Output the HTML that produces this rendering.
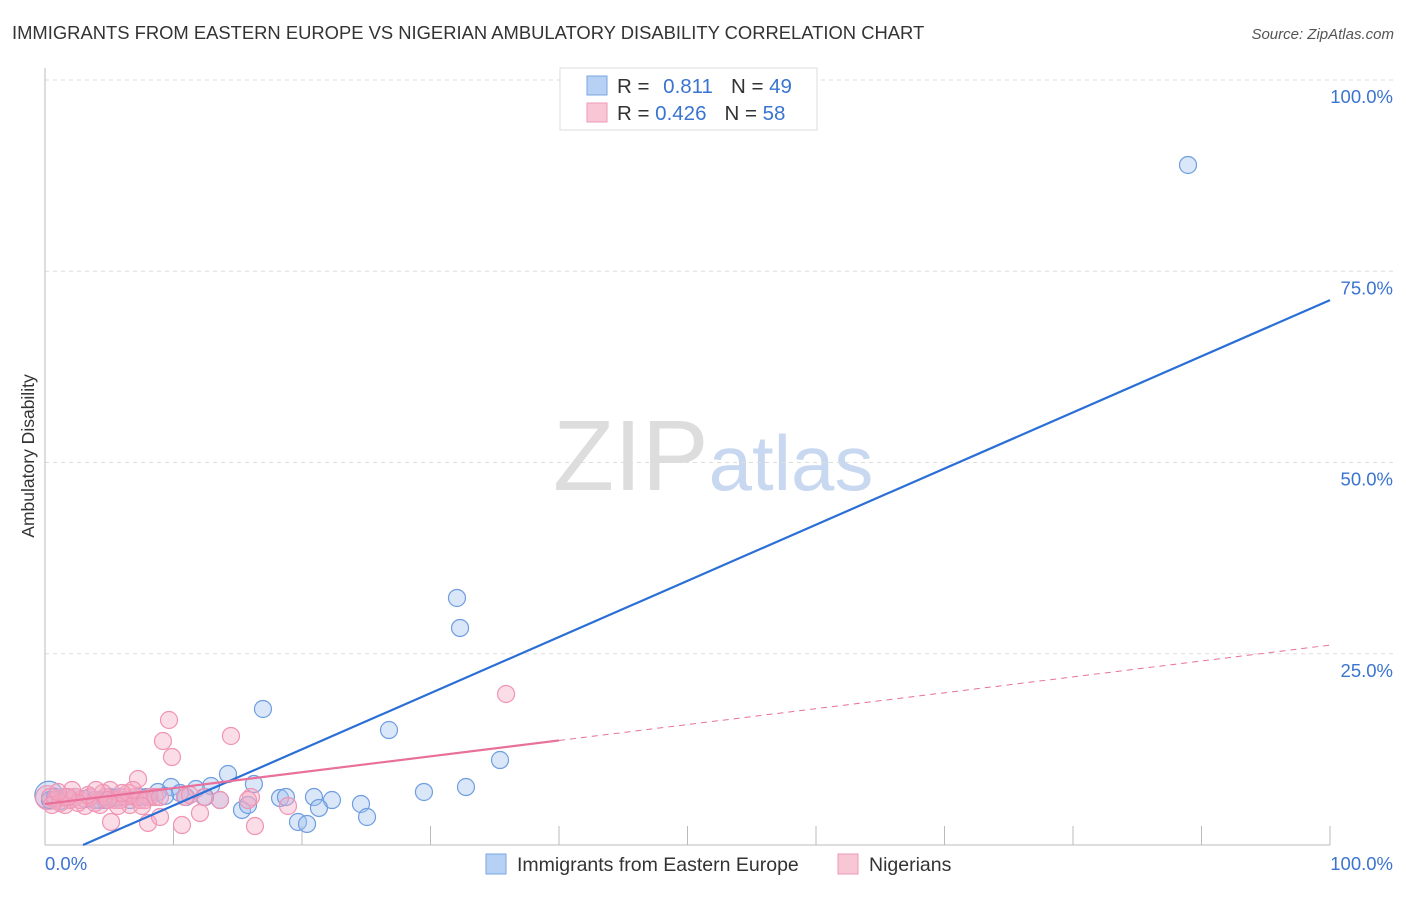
<!DOCTYPE html>
<html><head><meta charset="utf-8">
<style>
body{margin:0;background:#fff;font-family:"Liberation Sans",sans-serif;}
svg text{font-family:"Liberation Sans",sans-serif;}
</style></head>
<body>
<svg id="chart" width="1406" height="892" xmlns="http://www.w3.org/2000/svg">
<text x="12" y="39" font-size="18.4" fill="#333">IMMIGRANTS FROM EASTERN EUROPE VS NIGERIAN AMBULATORY DISABILITY CORRELATION CHART</text>
<text x="1394" y="39" font-size="15" fill="#555" text-anchor="end" font-style="italic">Source: ZipAtlas.com</text>
<text x="553" y="490" font-size="100" fill="#ddd" font-family="Liberation Serif">ZIP<tspan fill="#c8d8f0" font-family="Liberation Sans" font-size="78">atlas</tspan></text>
<g id="grid"></g>
<g id="axes"></g>
<g id="marks"></g>
<text transform="translate(34,456) rotate(-90)" font-size="17.5" fill="#333" text-anchor="middle">Ambulatory Disability</text>
<g>
<rect x="560" y="68" width="257" height="62" fill="#fff" stroke="#ddd"/>
<rect x="587" y="76" width="20" height="19" fill="#b7d1f5" stroke="#7aa5e3"/>
<rect x="587" y="103" width="20" height="19" fill="#f9c6d6" stroke="#ef9ab6"/>
<text x="617" y="93" font-size="20.5" fill="#333">R = <tspan fill="#3a74d0" dx="8">0.811</tspan><tspan fill="#333" dx="18">N = </tspan><tspan fill="#3a74d0">49</tspan></text>
<text x="617" y="120" font-size="20.5" fill="#333">R = <tspan fill="#3a74d0">0.426</tspan><tspan fill="#333" dx="18">N = </tspan><tspan fill="#3a74d0">58</tspan></text>
</g>
<g>
<rect x="486" y="854" width="20" height="20" fill="#b7d1f5" stroke="#7aa5e3"/>
<text x="517" y="871" font-size="19.5" fill="#333">Immigrants from Eastern Europe</text>
<rect x="838" y="854" width="20" height="20" fill="#f9c6d6" stroke="#ef9ab6"/>
<text x="869" y="871" font-size="19.5" fill="#333">Nigerians</text>
</g>
</svg>
<script>
const yTicks=[25,50,75,100];
const yTickLabels=["25.0%","50.0%","75.0%","100.0%"];
const xTickLabels=["0.0%","100.0%"];
const bluePts=[[1188,165],[457,598],[460,628],[263,709],[389,730],[500,760],[466,787],[424,792],[228,774],[254,784],[171,787],[211,786],[196,789],[158,792],[280,798],[286,797],[314,797],[332,800],[361,804],[319,808],[242,810],[248,805],[367,817],[298,822],[307,824],[220,800],[186,797],[140,797],[147,797],[120,797],[100,800],[85,799],[70,800],[60,801],[50,800],[130,800],[110,797],[180,793],[205,797],[90,797],[75,797],[65,797],[55,797],[95,800],[105,800],[115,798],[150,797],[165,796]].map(p=>[+((p[0]-45)/12.85).toFixed(2),+((845-p[1])/7.65).toFixed(2)]);
const pinkPts=[[506,694],[169,720],[163,741],[172,757],[231,736],[138,779],[150,797],[204,797],[251,797],[288,806],[255,826],[200,813],[182,825],[111,822],[148,823],[160,817],[130,805],[100,805],[85,806],[70,800],[60,798],[50,797],[55,800],[65,805],[75,797],[80,800],[90,797],[95,803],[105,797],[110,790],[115,800],[120,800],[125,797],[128,793],[135,797],[140,800],[145,800],[155,797],[160,797],[185,797],[190,795],[220,800],[248,800],[60,803],[52,805],[88,795],[72,790],[103,793],[118,806],[78,803],[68,797],[58,792],[96,790],[133,790],[142,806],[122,793],[108,800]].map(p=>[+((p[0]-45)/12.85).toFixed(2),+((845-p[1])/7.65).toFixed(2)]);
const blueBig=[0.3,6.5];
const pinkBig=[0.2,6.2];
const blueFit=[-2.17,0.734];
const pinkFit=[5.36,0.2077];
const NS="http://www.w3.org/2000/svg";
const X=v=>45+v*12.85, Y=v=>845-v*7.65;
function mk(tag,attrs,parent){const e=document.createElementNS(NS,tag);for(const k in attrs)e.setAttribute(k,attrs[k]);document.getElementById(parent).appendChild(e);return e;}
yTicks.forEach((t,i)=>{
 const g=mk('line',{x1:45,x2:1395,y1:Y(t),y2:Y(t),stroke:'#ddd','stroke-dasharray':'4,4'},'grid');
 
 
 const l=mk('text',{x:1393,y:Y(t)+23,'font-size':18.5,fill:'#3a74d0','text-anchor':'end'},'axes');
 l.textContent=yTickLabels[i];
 
 
});
mk('line',{x1:45,x2:45,y1:68,y2:845,stroke:'#bbb'},'axes');
mk('line',{x1:45,x2:1330,y1:845,y2:845,stroke:'#bbb'},'axes');
for(let i=1;i<=10;i++){const t=mk('line',{x1:X(i*10),x2:X(i*10),y1:826,y2:845,stroke:'#bbb'},'axes');
 
 }
const x0=mk('text',{x:45,y:870,'font-size':18.5,fill:'#3a74d0'},'axes');x0.textContent=xTickLabels[0];


const x1=mk('text',{x:1393,y:870,'font-size':18.5,fill:'#3a74d0','text-anchor':'end'},'axes');x1.textContent=xTickLabels[1];


function dot(p,r,cls){const c=mk('circle',{cx:X(p[0]),cy:Y(p[1]),r:r,fill:cls=='b'?'rgba(160,196,240,0.4)':'rgba(245,170,195,0.4)',stroke:cls=='b'?'#6f9de0':'#f094b4','stroke-width':1.2},'marks');
 
 }
dot(blueBig,14,'b');dot(pinkBig,12,'p');
bluePts.forEach(p=>dot(p,8.5,'b'));
pinkPts.forEach(p=>dot(p,8.5,'p'));
const x0b=-blueFit[0]/blueFit[1];
const bl=mk('line',{x1:X(x0b),y1:Y(0),x2:X(100),y2:Y(blueFit[0]+blueFit[1]*100),stroke:'#2a6fd6','stroke-width':2.2},'marks');


const pl=mk('line',{x1:X(0),y1:Y(pinkFit[0]),x2:X(40),y2:Y(pinkFit[0]+pinkFit[1]*40),stroke:'#e8709a','stroke-width':2.2},'marks');


const pd=mk('line',{x1:X(40),y1:Y(pinkFit[0]+pinkFit[1]*40),x2:X(100),y2:Y(pinkFit[0]+pinkFit[1]*100),stroke:'#e8709a','stroke-width':1,'stroke-dasharray':'6,5'},'marks');


</script>
</body></html>
